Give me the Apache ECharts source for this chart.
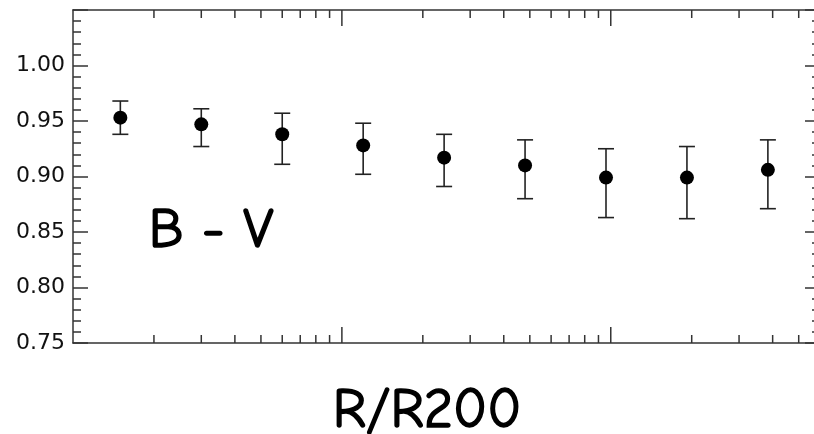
<!DOCTYPE html>
<html>
<head>
<meta charset="utf-8">
<title>B - V vs R/R200</title>
<script src="https://cdn.jsdelivr.net/npm/echarts@6/dist/echarts.min.js"></script>
<style>
  html, body { margin: 0; padding: 0; background: #ffffff; }
  #chart { width: 814px; height: 434px; }
</style>
</head>
<body>
<div id="chart"></div>
<script>
// Radial bins (R/R200) and the B - V colour measured in each bin
const radius = [0.015, 0.03, 0.06, 0.12, 0.24, 0.48, 0.96, 1.92, 3.84];
const colourBV = [0.953, 0.947, 0.938, 0.928, 0.917, 0.910, 0.899, 0.899, 0.906];
const errHigh = [0.968, 0.961, 0.957, 0.948, 0.938, 0.933, 0.925, 0.927, 0.933];
const errLow = [0.938, 0.927, 0.911, 0.902, 0.891, 0.880, 0.863, 0.862, 0.871];

// Axis ranges and tick labels
const xRange = [0.01, 6];
const yRange = [0.75, 1.05];
const yTickLabels = ['0.75', '0.80', '0.85', '0.90', '0.95', '1.00'];
// Logarithmic x ticks: decades get long ticks, 2..9 multiples short ones
const xMajorTicks = [0.1, 1];
const xMinorTicks = [0.02, 0.03, 0.04, 0.05, 0.06, 0.07, 0.08, 0.09,
                     0.2, 0.3, 0.4, 0.5, 0.6, 0.7, 0.8, 0.9,
                     2, 3, 4, 5];

const INK = '#333333';
const TITLE_FONT = "'Comic Sans MS', 'Comic Neue', 'Noto Sans', sans-serif";

const tickData = xMajorTicks.map(v => [v, 1]).concat(xMinorTicks.map(v => [v, 0]));
const errData = radius.map((r, i) => [r, errLow[i], errHigh[i]]);
const pointData = radius.map((r, i) => [r, colourBV[i]]);

const chart = echarts.init(document.getElementById('chart'), null, { renderer: 'canvas' });

const yAxisBase = {
  type: 'value',
  min: yRange[0],
  max: yRange[1],
  interval: 0.05,
  axisLine: { show: true, lineStyle: { color: INK, width: 1.5 } },
  axisTick: { show: true, inside: true, length: 15, lineStyle: { color: INK, width: 1.5 } },
  minorTick: { show: true, splitNumber: 5, length: 8, lineStyle: { color: INK, width: 1.5 } },
  splitLine: { show: false },
  minorSplitLine: { show: false }
};

const xAxisBase = {
  type: 'log',
  logBase: 10,
  min: xRange[0],
  max: xRange[1],
  axisLine: { show: true, lineStyle: { color: INK, width: 1.5 } },
  axisTick: { show: false },
  axisLabel: { show: false },
  splitLine: { show: false }
};

const titleStyle = {
  font: '56px ' + TITLE_FONT,
  fill: '#000000',
  stroke: '#000000',
  lineWidth: 1.6,
  align: 'center',
  verticalAlign: 'middle'
};

chart.setOption({
  animation: false,
  backgroundColor: '#ffffff',
  grid: {
    left: 73, right: -6, top: 10, bottom: 91,
    containLabel: false,
    outerBoundsMode: 'none'
  },
  xAxis: [
    Object.assign({}, xAxisBase, { position: 'bottom' }),
    Object.assign({}, xAxisBase, { position: 'top' })
  ],
  yAxis: [
    Object.assign({}, yAxisBase, {
      position: 'left',
      axisLabel: {
        show: true,
        margin: 8,
        color: '#111111',
        fontFamily: "'DejaVu Sans', sans-serif",
        fontSize: 22,
        formatter: function (v) {
          const s = Number(v).toFixed(2);
          return yTickLabels.indexOf(s) >= 0 ? s : '';
        }
      }
    }),
    Object.assign({}, yAxisBase, {
      position: 'right',
      axisLabel: { show: false }
    })
  ],
  graphic: [
    {
      type: 'text',
      x: 211, y: 231,
      style: Object.assign({ text: 'B - V' }, titleStyle)
    },
    {
      type: 'text',
      x: 427, y: 411,
      style: Object.assign({ text: 'R/R200' }, titleStyle)
    }
  ],
  series: [
    {
      // log-axis tick marks on the bottom and top frame edges
      type: 'custom',
      name: 'xticks',
      xAxisIndex: 0,
      yAxisIndex: 0,
      silent: true,
      data: tickData,
      encode: { x: 0 },
      renderItem: function (params, api) {
        const v = api.value(0);
        const len = api.value(1) ? 16 : 8;
        const bottom = api.coord([v, yRange[0]]);
        const top = api.coord([v, yRange[1]]);
        const style = { stroke: INK, lineWidth: 1.5 };
        return {
          type: 'group',
          children: [
            { type: 'line', shape: { x1: bottom[0], y1: bottom[1], x2: bottom[0], y2: bottom[1] - len }, style: style },
            { type: 'line', shape: { x1: top[0], y1: top[1], x2: top[0], y2: top[1] + len }, style: style }
          ]
        };
      },
      z: 3
    },
    {
      // error bars with end caps
      type: 'custom',
      name: 'errors',
      xAxisIndex: 0,
      yAxisIndex: 0,
      silent: true,
      data: errData,
      encode: { x: 0, y: [1, 2] },
      renderItem: function (params, api) {
        const x = api.value(0);
        const lo = api.coord([x, api.value(1)]);
        const hi = api.coord([x, api.value(2)]);
        const cap = 8;
        const style = { stroke: '#222222', lineWidth: 1.6 };
        return {
          type: 'group',
          children: [
            { type: 'line', shape: { x1: lo[0], y1: lo[1], x2: hi[0], y2: hi[1] }, style: style },
            { type: 'line', shape: { x1: lo[0] - cap, y1: lo[1], x2: lo[0] + cap, y2: lo[1] }, style: style },
            { type: 'line', shape: { x1: hi[0] - cap, y1: hi[1], x2: hi[0] + cap, y2: hi[1] }, style: style }
          ]
        };
      },
      z: 4
    },
    {
      type: 'scatter',
      name: 'B - V',
      xAxisIndex: 0,
      yAxisIndex: 0,
      data: pointData,
      symbol: 'circle',
      symbolSize: 14,
      itemStyle: { color: '#000000', opacity: 1 },
      z: 5
    }
  ]
});
</script>
</body>
</html>
